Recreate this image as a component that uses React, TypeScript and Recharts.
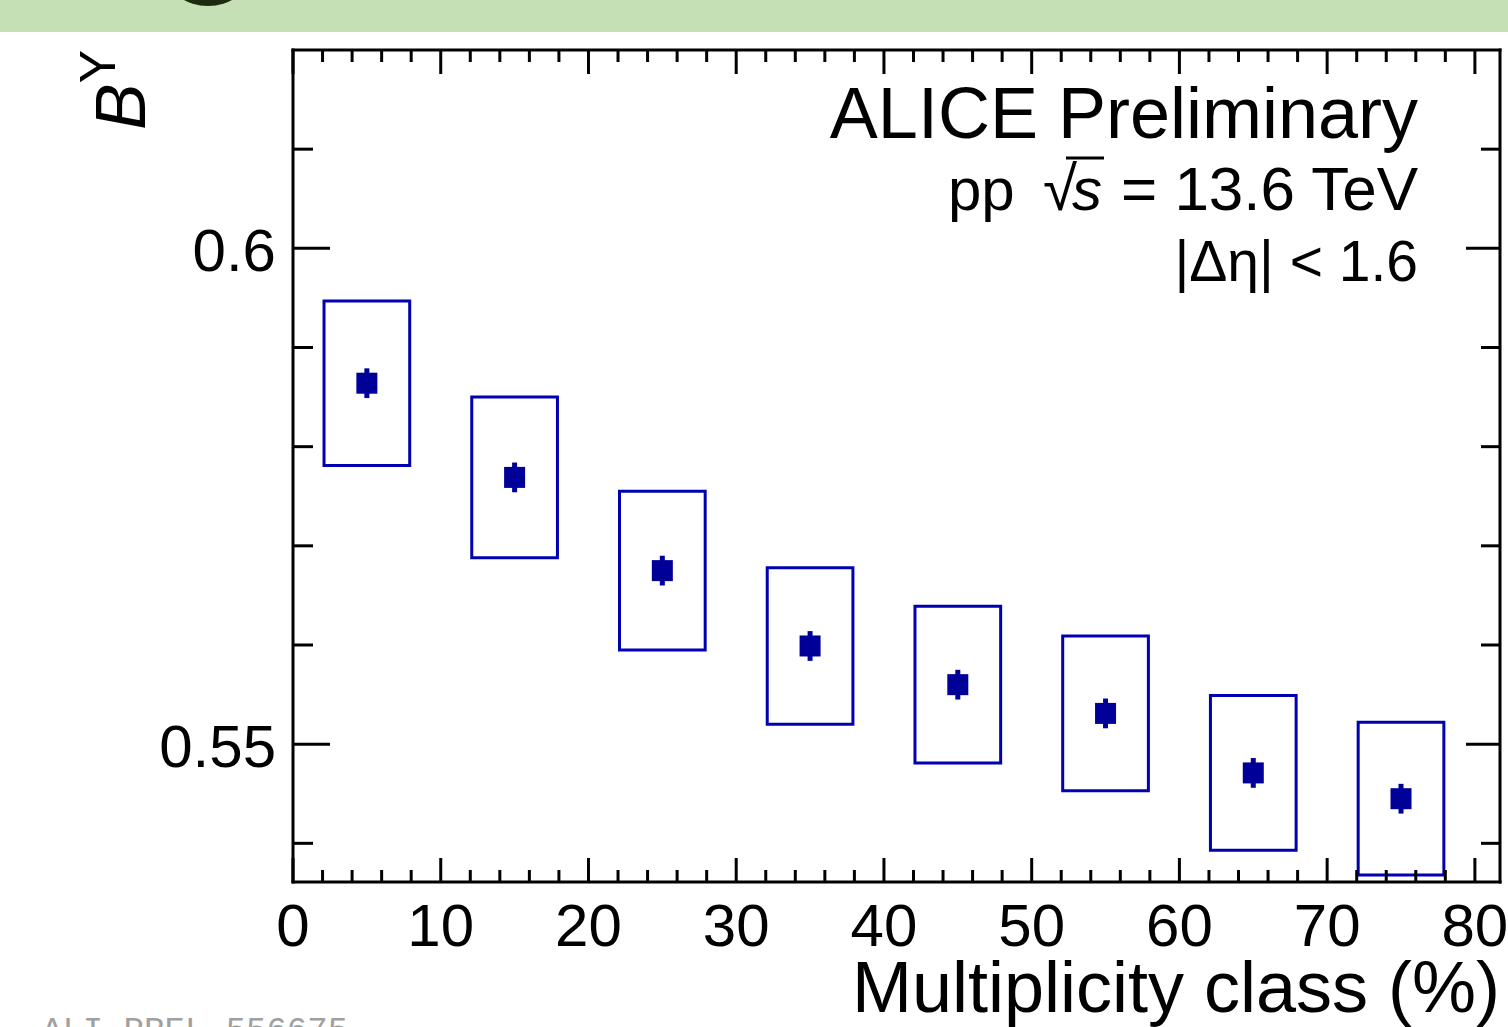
import React from 'react';
import { ComposedChart, Scatter, XAxis, YAxis, ErrorBar, ReferenceArea } from 'recharts';

// ---- data ----
const multClass = [5, 15, 25, 35, 45, 55, 65, 75];
const bY = [0.5864, 0.5769, 0.5675, 0.5599, 0.556, 0.5531, 0.5471, 0.5445];
const statErr = [0.0015, 0.0015, 0.0015, 0.0015, 0.0015, 0.0015, 0.0015, 0.0015];
const sysErr = [0.0083, 0.0081, 0.008, 0.0079, 0.0079, 0.0078, 0.0078, 0.0077];

const xMajorTicks = [0, 10, 20, 30, 40, 50, 60, 70, 80];
const xAllTicks = [0, 2, 4, 6, 8, 10, 12, 14, 16, 18, 20, 22, 24, 26, 28, 30, 32, 34, 36, 38, 40, 42, 44, 46, 48, 50, 52, 54, 56, 58, 60, 62, 64, 66, 68, 70, 72, 74, 76, 78, 80];
const yMajorTicks = [0.55, 0.6];
const yMinorTicks = [0.54, 0.56, 0.57, 0.58, 0.59, 0.61];

const X_DOMAIN: [number, number] = [0, 81.7];
const Y_DOMAIN: [number, number] = [0.5361, 0.62];
const BOX_HALF_WIDTH = 2.9;

// layout
const CHART_W = 1508;
const CHART_H = 1027;
const MARGIN = { top: 50, right: 8, bottom: 65, left: 93 };
const X_AXIS_H = 80;
const Y_AXIS_W = 200;
const PLOT_H = CHART_H - MARGIN.top - MARGIN.bottom - X_AXIS_H;

const MARKER = '#000099';
const BOX = '#0000b0';
const FONT = '"Liberation Sans", Arial, Helvetica, sans-serif';

const data = multClass.map((x, i) => ({ x, y: bY[i], stat: statErr[i], sys: sysErr[i] }));

const frameLine = { stroke: '#000', strokeWidth: 3, strokeLinecap: 'square' as const };
const tickLine = { stroke: '#000', strokeWidth: 3 };

const isMajorX = (v: number) => xMajorTicks.indexOf(v) >= 0;

// x tick: inward tick marks on bottom and top frame edges (+ label for major ticks)
const XTick = (props: any) => {
  const { x, y, payload } = props;
  const major = isMajorX(payload.value);
  const len = major ? 24 : 12;
  const top = y - PLOT_H;
  return (
    <g>
      <line x1={x} x2={x} y1={y} y2={y - len} stroke="#000" strokeWidth={3} />
      <line x1={x} x2={x} y1={top} y2={top + len} stroke="#000" strokeWidth={3} />
      {major && (
        <text x={x} y={y + 64} textAnchor="middle" fontSize={60} fontFamily={FONT} fill="#000">
          {String(payload.value)}
        </text>
      )}
    </g>
  );
};

const YTick = (props: any) => {
  const { x, y, payload } = props;
  return (
    <text x={x} y={y + 23} textAnchor="end" fontSize={60} fontFamily={FONT} fill="#000">
      {String(payload.value)}
    </text>
  );
};

const NoTick = () => <g />;

const MarkerShape = (props: any) => {
  const { cx, cy } = props;
  if (cx == null || cy == null) return null;
  return <rect x={cx - 10.5} y={cy - 10.5} width={21} height={21} fill={MARKER} />;
};

export default function App() {
  return (
    <div style={{ position: 'absolute', left: 0, top: 0, width: CHART_W, height: CHART_H, background: '#fff', overflow: 'hidden' }}>
      <div style={{ position: 'absolute', left: 0, top: 0 }}>
        <ComposedChart width={CHART_W} height={CHART_H} margin={MARGIN}>
          {/* bottom axis: labels + inward ticks (bottom and top edges) */}
          <XAxis xAxisId="x" type="number" dataKey="x" domain={X_DOMAIN} allowDataOverflow ticks={xAllTicks}
            interval={0} height={X_AXIS_H} tickSize={0} tickMargin={0} tickLine={false} axisLine={frameLine} tick={XTick} />
          {/* top frame edge */}
          <XAxis xAxisId="xTop" orientation="top" mirror type="number" domain={X_DOMAIN} allowDataOverflow ticks={xMajorTicks}
            interval={0} height={40} tickSize={0} tickMargin={0} tickLine={false} axisLine={frameLine} tick={<NoTick />} />

          <YAxis yAxisId="y" type="number" dataKey="y" domain={Y_DOMAIN} allowDataOverflow ticks={yMajorTicks}
            interval={0} width={Y_AXIS_W} tickSize={0} tickMargin={17} tickLine={false} axisLine={frameLine} tick={<YTick />} />
          <YAxis yAxisId="yMajL" orientation="left" mirror type="number" domain={Y_DOMAIN} allowDataOverflow ticks={yMajorTicks}
            interval={0} width={1} tickSize={37} tick={<NoTick />} axisLine={false} tickLine={tickLine} />
          <YAxis yAxisId="yMinL" orientation="left" mirror type="number" domain={Y_DOMAIN} allowDataOverflow ticks={yMinorTicks}
            interval={0} width={1} tickSize={19} tick={<NoTick />} axisLine={false} tickLine={tickLine} />
          <YAxis yAxisId="yMajR" orientation="right" mirror type="number" domain={Y_DOMAIN} allowDataOverflow ticks={yMajorTicks}
            interval={0} width={1} tickSize={34} tick={<NoTick />} axisLine={frameLine} tickLine={tickLine} />
          <YAxis yAxisId="yMinR" orientation="right" mirror type="number" domain={Y_DOMAIN} allowDataOverflow ticks={yMinorTicks}
            interval={0} width={1} tickSize={18} tick={<NoTick />} axisLine={false} tickLine={tickLine} />

          {/* systematic boxes */}
          {data.map((d) => (
            <ReferenceArea key={`box-${d.x}`} xAxisId="x" yAxisId="y"
              x1={d.x - BOX_HALF_WIDTH} x2={d.x + BOX_HALF_WIDTH} y1={d.y - d.sys} y2={d.y + d.sys}
              fill="none" fillOpacity={0} stroke={BOX} strokeWidth={3} ifOverflow="visible" />
          ))}

          <Scatter xAxisId="x" yAxisId="y" data={data} dataKey="y" shape={<MarkerShape />} isAnimationActive={false}>
            <ErrorBar dataKey="stat" direction="y" width={0} stroke={MARKER} strokeWidth={5} isAnimationActive={false} />
          </Scatter>
        </ComposedChart>
      </div>

      <svg width={CHART_W} height={CHART_H} style={{ position: 'absolute', left: 0, top: 0, pointerEvents: 'none' }}>
        <rect x={0} y={0} width={CHART_W} height={32} fill="#c5e0b4" />
        <ellipse cx={208} cy={-24} rx={40} ry={30} fill="#1d2a10" />

        {/* y axis title */}
        <text transform="translate(145,130) rotate(-90)" fontFamily={FONT} fontSize={70} fill="#000">
          <tspan fontStyle="italic">B</tspan>
          <tspan fontSize={50} dy={-30}>Y</tspan>
        </text>

        <text x={1418} y={138} textAnchor="end" fontFamily={FONT} fontSize={72} fill="#000">ALICE Preliminary</text>

        <text x={948} y={210} fontFamily={FONT} fontSize={60} fill="#000">pp</text>
        <text x={1043} y={210} fontFamily={FONT} fontSize={62} fill="#000">√</text>
        <line x1={1066} y1={158} x2={1104} y2={158} stroke="#000" strokeWidth={3} />
        <text x={1072} y={210} fontFamily={FONT} fontSize={60} fontStyle="italic" fill="#000">s</text>
        <text x={1418} y={210} textAnchor="end" fontFamily={FONT} fontSize={62} fill="#000">= 13.6 TeV</text>

        <text x={1418} y={281} textAnchor="end" fontFamily={FONT} fontSize={57} fill="#000">|Δη| &lt; 1.6</text>

        <text x={1500} y={1012} textAnchor="end" fontFamily={FONT} fontSize={72} fill="#000">Multiplicity class (%)</text>

        <text x={42} y={1040} fontFamily={'"Liberation Mono", monospace'} fontSize={34} fill="#a0a0a0">ALI-PREL-556675</text>
      </svg>
    </div>
  );
}
